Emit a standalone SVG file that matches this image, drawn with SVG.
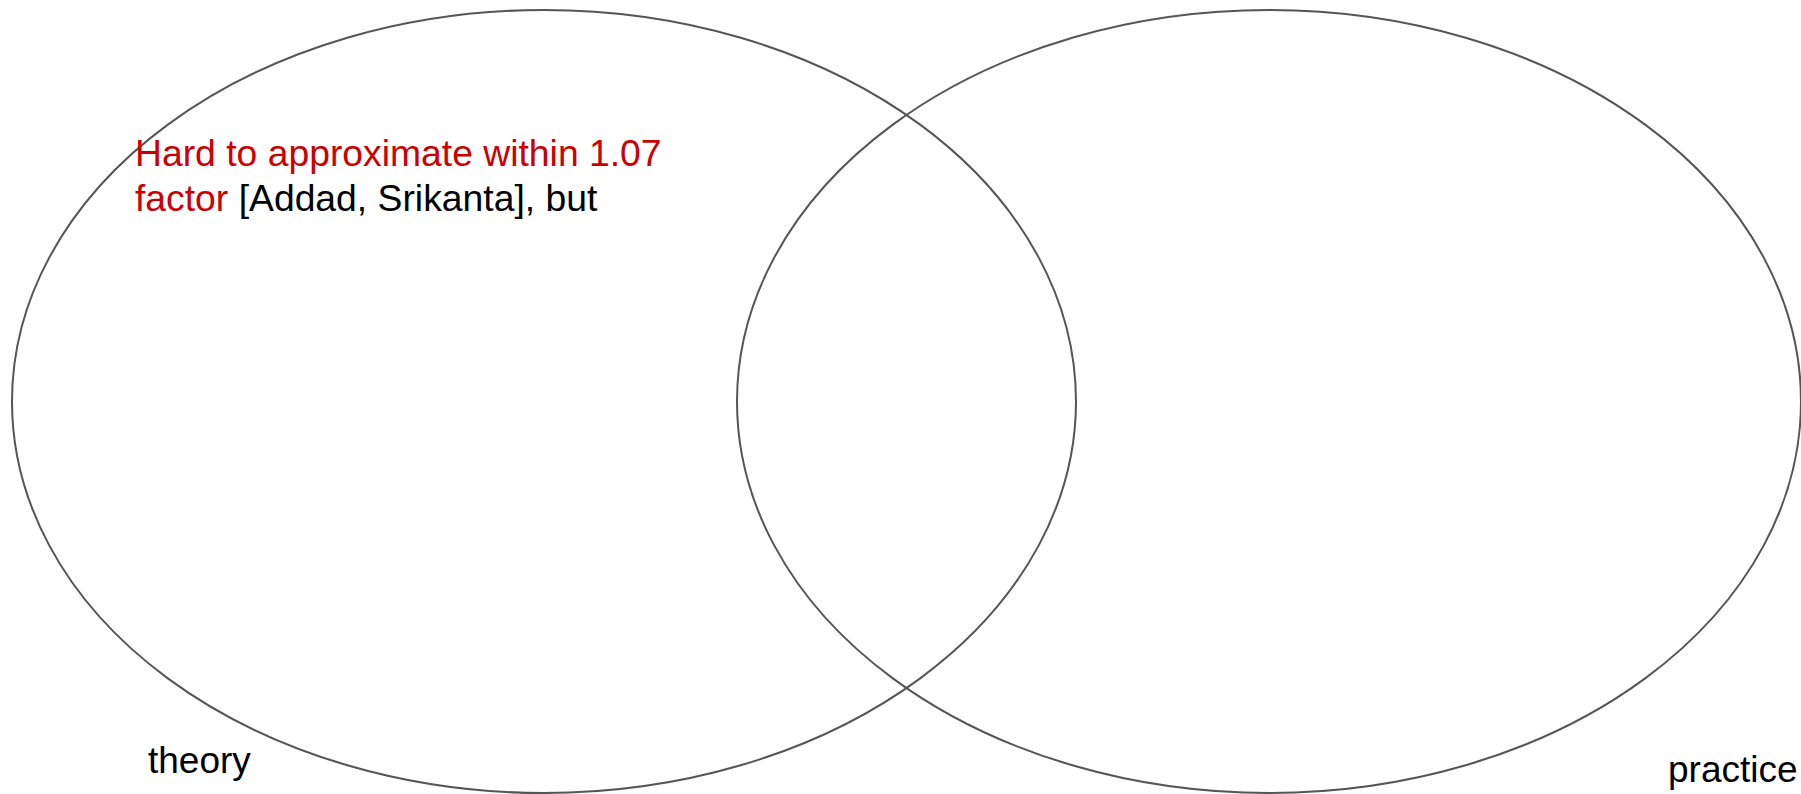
<svg xmlns="http://www.w3.org/2000/svg" width="1801" height="794" viewBox="0 0 1801 794">
<style>
.set{fill:none;stroke:#555;stroke-width:2}
.t{font-family:"Liberation Sans",Arial,sans-serif;fill:#000}
.red{fill:#cc0000}
</style>
<rect width="1801" height="794" fill="#fff"/>
<g id="theory">
<ellipse class="set" cx="544" cy="401.5" rx="532" ry="391.5"/>
<text class="t" x="148" y="773" font-size="37">theory</text>
</g>
<g id="practice">
<ellipse class="set" cx="1269" cy="401.5" rx="532" ry="391.5"/>
<text class="t" x="1668" y="782" font-size="37">practice</text>
</g>
<g id="note">
<text class="t" font-size="37.3"><tspan x="135" y="166" class="red">Hard to approximate within 1.07</tspan><tspan x="135" y="211"><tspan class="red">factor</tspan> [Addad, Srikanta], but</tspan></text>
</g>
<g id="connectors"></g>
</svg>
